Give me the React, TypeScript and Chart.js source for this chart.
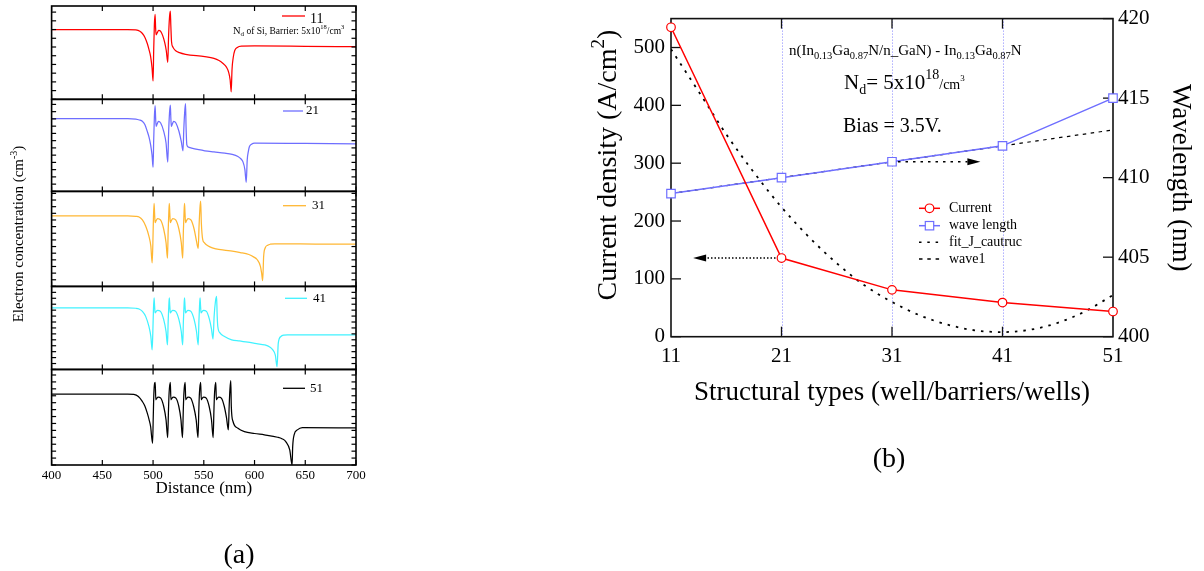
import React, { useEffect, useRef } from 'react';
import { Chart, registerables } from 'chart.js';

Chart.register(...registerables);

const SERIF = '"Liberation Serif", "Times New Roman", Times, serif';

// ---------------- Panel (a): electron concentration vs distance ----------------
const distanceTicks = [400, 450, 500, 550, 600, 650, 700];
const structureNames = ['11', '21', '31', '41', '51'];
// y range of each stacked sub-plot (arbitrary log units, one minor tick per unit)
const panelRanges = [10.7, 12.7, 14.3, 14.0, 13.8];

const conc11 = [
  [400, 8.0], [475, 8.0], [483, 7.95], [487, 7.8], [489.5, 7.55], [492, 7.1], [494.3, 6.4], [496, 5.7],
  [497.6, 4.9], [499, 3.6], [500, 2.1], [500.6, 5.5], [501.3, 8.6], [502, 9.75], [502.5, 8.2], [503, 7.4],
  [504, 7.6], [505.5, 7.9], [507.5, 7.8], [509.5, 7.3], [511.5, 6.5], [513, 5.6], [514.5, 4.25], [515.3, 7.3],
  [516.2, 9.4], [517, 10.1], [517.5, 8.5], [518.2, 6.6], [519.5, 6.0], [522, 5.6], [526, 5.35], [532, 5.16],
  [551, 4.9], [560, 4.7], [565, 4.45], [569, 4.1], [572.3, 3.7], [574.5, 3.1], [576, 2.2], [577, 0.87],
  [577.8, 3.4], [579, 4.8], [580.5, 5.6], [583, 5.95], [587, 6.1], [600, 6.12], [650, 6.08], [700, 6.03],
];

const conc21 = [
  [400, 10.04], [475, 10.04], [483, 9.98], [486.5, 9.85], [489.4, 9.67], [492, 9.2], [494.3, 8.28], [496, 7.5],
  [497.6, 6.43], [499, 5.0], [500, 3.33], [500.6, 7.0], [501.3, 10.3], [502, 11.85], [502.5, 10.2], [503, 8.97],
  [504, 9.3], [505.3, 9.67], [507.5, 9.44], [510.5, 8.28], [512.8, 6.67], [514.5, 4.03], [515.3, 8.0], [516.2, 10.8],
  [517, 11.9], [517.5, 10.2], [518, 8.97], [519, 9.3], [520.3, 9.67], [522.5, 9.44], [525.5, 8.3], [527.8, 6.9],
  [529.5, 5.6], [530.3, 8.6], [531.2, 11.0], [532, 12.1], [532.5, 9.0], [533.3, 6.43], [535, 6.1], [538, 5.97],
  [545, 5.75], [551, 5.6], [560, 5.45], [570.7, 5.28], [578, 5.1], [583.6, 4.81], [586.5, 4.5], [588.5, 4.11],
  [590.5, 3.0], [591.8, 1.25], [592.8, 4.35], [594, 5.6], [595, 6.19], [597, 6.5], [600, 6.67], [650, 6.62], [700, 6.57],
];

const conc31 = [
  [400, 10.6], [475, 10.6], [483, 10.55], [486.2, 10.45], [489.5, 10.0], [492.7, 9.09], [495.9, 7.58], [497.8, 6.06],
  [499.1, 3.54], [499.8, 6.5], [500.4, 10.5], [501, 12.48], [501.5, 11.0], [502, 9.6], [503, 9.9], [504.4, 10.2],
  [507.3, 10.0], [510.5, 8.6], [512.8, 6.58], [514.2, 4.24], [514.9, 8.5], [515.5, 11.0], [516, 12.48], [516.5, 11.0],
  [517, 9.6], [518, 9.9], [519.4, 10.2], [522.3, 10.0], [525.5, 8.6], [527.8, 6.58], [529.2, 4.24], [529.9, 8.5],
  [530.5, 11.0], [531, 12.48], [531.5, 11.0], [532, 9.6], [533, 9.9], [534.4, 10.2], [537.3, 10.0], [540.5, 8.6],
  [542.8, 6.8], [544.5, 5.71], [545.3, 9.0], [546.2, 11.8], [546.9, 12.83], [547.6, 9.5], [548.9, 7.08], [550.5, 6.6],
  [552.2, 6.32], [556, 5.95], [561.9, 5.66], [570, 5.45], [578.1, 5.3], [586, 5.1], [594.4, 4.8], [599, 4.45],
  [602.5, 4.05], [605.8, 3.03], [607, 2.0], [608, 0.86], [609, 4.55], [610.6, 5.82], [613, 6.2], [615.5, 6.35],
  [620, 6.42], [660, 6.38], [700, 6.35],
];

const conc41 = [
  [400, 10.37], [475, 10.37], [483, 10.32], [486.2, 10.2], [489.5, 9.8], [492.7, 8.95], [495.9, 7.25], [497.8, 5.56],
  [499.1, 3.3], [499.8, 6.5], [500.4, 10.2], [501, 12.07], [501.5, 10.7], [502, 9.53], [503, 9.75], [504.4, 9.97],
  [507.3, 9.8], [510.5, 8.4], [512.8, 6.4], [514.2, 4.15], [514.9, 8.2], [515.5, 10.7], [516, 12.07], [516.5, 10.7],
  [517, 9.53], [518, 9.75], [519.4, 9.97], [522.3, 9.8], [525.5, 8.4], [527.8, 6.4], [529.2, 4.15], [529.9, 8.2],
  [530.5, 10.7], [531, 12.07], [531.5, 10.7], [532, 9.53], [533, 9.75], [534.4, 9.97], [537.3, 9.8], [540.5, 8.4],
  [542.8, 6.4], [544.5, 4.15], [545.2, 8.2], [545.8, 10.7], [546.3, 12.07], [546.8, 10.7], [547.3, 9.53], [548.3, 9.75],
  [549.7, 9.97], [552.6, 9.8], [555.5, 8.5], [557.5, 6.9], [559.1, 5.12], [560.2, 9.0], [561.5, 11.5], [562.6, 12.34],
  [563.2, 9.0], [563.8, 7.25], [566.1, 6.13], [570, 5.6], [577.5, 5.0], [585, 4.8], [593.4, 4.6], [602, 4.35],
  [610, 4.15], [615, 3.8], [618, 3.3], [620.5, 2.4], [622.2, 0.47], [623.4, 4.44], [626, 5.56], [629, 5.8],
  [632.4, 5.85], [700, 5.83],
];

const conc51 = [
  [400, 10.25], [475, 10.25], [481, 10.2], [485.5, 9.9], [489.4, 9.18], [492, 8.5], [494.3, 7.49], [496, 6.6],
  [497.6, 5.55], [499.5, 3.14], [500.2, 7.0], [500.8, 10.4], [502.1, 11.93], [502.7, 9.42], [503.5, 9.6], [505, 9.81],
  [507.6, 9.67], [510.5, 8.45], [512.8, 6.52], [514.4, 3.97], [515.2, 8.0], [515.8, 10.4], [517, 11.93], [517.6, 9.42],
  [518.4, 9.6], [519.9, 9.81], [522.5, 9.67], [525.4, 8.45], [527.5, 6.52], [529.0, 3.97], [529.8, 8.0], [530.4, 10.4],
  [531.6, 11.93], [532.2, 9.42], [533, 9.6], [534.5, 9.81], [537.1, 9.67], [540, 8.45], [542.5, 6.52], [544.3, 3.97],
  [545.1, 8.0], [545.7, 10.4], [546.9, 11.93], [547.5, 9.42], [548.3, 9.6], [549.8, 9.81], [552.4, 9.67], [555.3, 8.45],
  [557.6, 6.52], [559.2, 3.97], [560, 8.0], [560.6, 10.4], [561.8, 11.93], [562.4, 9.42], [563.2, 9.6], [564.7, 9.81],
  [567.3, 9.67], [570.2, 8.45], [572.4, 6.8], [574.2, 5.07], [575, 8.5], [575.8, 11.0], [576.6, 12.17], [577.1, 8.5],
  [578.8, 6.28], [583.6, 5.31], [590, 4.83], [600, 4.55], [609.7, 4.35], [622.7, 4.01], [627, 3.8], [630.8, 3.38],
  [634.7, 2.17], [637, 0], [637.6, 2.65], [639, 4.35], [642.2, 5.07], [647.1, 5.41], [700, 5.35],
];

const concCurves = [conc11, conc21, conc31, conc41, conc51];

// ---------------- Panel (b): current density & wavelength ----------------
const structTypes = [11, 21, 31, 41, 51];
const currentDensity = [535, 136, 81, 59, 43.5];
const waveLength = [409.0, 410.0, 411.0, 412.0, 415.0];
const fitX = [11, 13.5, 16, 18.5, 21, 23.5, 26, 28.5, 31, 33.5, 36, 38.5, 41, 43.5, 46, 48.5, 51];
const fitJ = [497, 424, 350, 284, 224, 172, 127, 89, 60, 37, 21, 11, 8, 12, 24, 44, 72];
const wave1 = [409, 410, 411, 412, 413];
const currentTicks = [0, 100, 200, 300, 400, 500];
const waveTicks = [400, 405, 410, 415, 420];

// ---------------- styles / layout ----------------
const panelColors = ['#ff0000', '#6e6eff', '#ffb733', '#40f2ff', '#000000'];
const panelWeights = [93.3, 92, 95, 83, 95.5];
const legendLineX = [[282, 305], [283, 303], [283, 306], [285, 307], [283, 305]];
const legendTextX = [310, 306, 312, 313, 310];
const legendY = [16, 111, 205.7, 298.3, 388.3];
const legendTextDy = [3.5, 0, 0, 0, 0];

type Part = [string, number, number];

function drawRich(ctx: CanvasRenderingContext2D, x: number, y: number, parts: Part[], align = 'left') {
  let w = 0;
  for (const [t, s] of parts) {
    ctx.font = `${s}px ${SERIF}`;
    w += ctx.measureText(t).width;
  }
  let cx = align === 'center' ? x - w / 2 : x;
  ctx.textAlign = 'left';
  for (const [t, s, dy] of parts) {
    ctx.font = `${s}px ${SERIF}`;
    ctx.fillText(t, cx, y + dy);
    cx += ctx.measureText(t).width;
  }
}

function seg(ctx: CanvasRenderingContext2D, x0: number, y0: number, x1: number, y1: number) {
  ctx.beginPath();
  ctx.moveTo(x0, y0);
  ctx.lineTo(x1, y1);
  ctx.stroke();
}

function arrow(ctx: CanvasRenderingContext2D, x0: number, y: number, x1: number, dash: number[]) {
  const dir = Math.sign(x1 - x0);
  const headLen = 13;
  const hw = 3.5;
  ctx.setLineDash(dash);
  seg(ctx, x0, y, x1 - dir * headLen, y);
  ctx.setLineDash([]);
  ctx.beginPath();
  ctx.moveTo(x1, y);
  ctx.lineTo(x1 - dir * headLen, y - hw);
  ctx.lineTo(x1 - dir * headLen, y + hw);
  ctx.closePath();
  ctx.fill();
}

const leftDecor = {
  id: 'leftDecor',
  afterDatasetsDraw(chart: any) {
    const { ctx } = chart;
    const x = chart.scales.x;
    const xl = chart.chartArea.left;
    const xr = chart.chartArea.right;
    ctx.save();
    ctx.fillStyle = '#000';
    for (let i = 0; i < concCurves.length; i++) {
      const ys = chart.scales['p' + i];
      const top = ys.top;
      const bot = ys.bottom;
      ctx.strokeStyle = '#000';
      ctx.setLineDash([]);
      ctx.lineWidth = 1.2;
      for (const v of distanceTicks) {
        const px = x.getPixelForValue(v);
        seg(ctx, px, top, px, top + 5);
        seg(ctx, px, bot, px, bot - 5);
      }
      for (let v = 0; v <= panelRanges[i] + 1e-6; v += 1) {
        const py = ys.getPixelForValue(v);
        seg(ctx, xl, py, xl + 4.5, py);
        seg(ctx, xr, py, xr - 4.5, py);
      }
      ctx.lineWidth = 1.6;
      ctx.strokeRect(xl, top, xr - xl, bot - top);
      // legend entry
      ctx.strokeStyle = panelColors[i];
      ctx.lineWidth = 1.3;
      seg(ctx, legendLineX[i][0], legendY[i], legendLineX[i][1], legendY[i]);
      ctx.font = `${i === 0 ? 14 : 13}px ${SERIF}`;
      ctx.textBaseline = 'middle';
      ctx.textAlign = 'left';
      ctx.fillText(structureNames[i], legendTextX[i], legendY[i] + legendTextDy[i]);
    }
    ctx.textBaseline = 'alphabetic';
    drawRich(ctx, 233, 33.5, [
      ['N', 10.5, 0], ['d', 7, 2.5], [' of Si, Barrier: 5x10', 9.5, 0], ['18', 6.5, -4.5], ['/cm', 9.5, 0], ['3', 6.5, -4.5],
    ]);
    // y-axis title
    ctx.save();
    ctx.translate(19.5, 234);
    ctx.rotate(-Math.PI / 2);
    ctx.textBaseline = 'middle';
    drawRich(ctx, 0, 0, [['Electron concentration (cm', 15, 0], ['-3', 10, -5], [')', 15, 0]], 'center');
    ctx.restore();
    // panel tag
    ctx.font = `28px ${SERIF}`;
    ctx.textAlign = 'center';
    ctx.textBaseline = 'middle';
    ctx.fillText('(a)', 239, 556);
    ctx.restore();
  },
};

const OFFX = 560; // left edge of the right-hand canvas on the page

const rightDecor = {
  id: 'rightDecor',
  beforeDatasetsDraw(chart: any) {
    const { ctx, chartArea: a } = chart;
    const x = chart.scales.x;
    const y = chart.scales.y;
    const y2 = chart.scales.y2;
    const guides = structTypes.slice(1, -1);
    ctx.save();
    ctx.strokeStyle = '#8484ff';
    ctx.lineWidth = 1;
    ctx.setLineDash([1, 2]);
    for (const v of guides) {
      const px = Math.round(x.getPixelForValue(v)) + 0.5;
      seg(ctx, px, a.top, px, a.bottom);
    }
    ctx.setLineDash([]);
    ctx.strokeStyle = '#111';
    ctx.lineWidth = 1.3;
    for (const v of guides) {
      const px = x.getPixelForValue(v);
      seg(ctx, px, a.top, px, a.top + 10);
      seg(ctx, px, a.bottom, px, a.bottom - 10);
    }
    for (const v of currentTicks) {
      const py = y.getPixelForValue(v);
      seg(ctx, a.left, py, a.left + 10, py);
    }
    for (const v of waveTicks) {
      const py = y2.getPixelForValue(v);
      seg(ctx, a.right, py, a.right - 10, py);
    }
    ctx.lineWidth = 1.6;
    ctx.strokeRect(a.left, a.top, a.right - a.left, a.bottom - a.top);
    ctx.restore();
  },
  afterDatasetsDraw(chart: any) {
    const { ctx } = chart;
    const x = chart.scales.x;
    const y = chart.scales.y;
    const y2 = chart.scales.y2;
    ctx.save();
    ctx.fillStyle = '#000';
    ctx.strokeStyle = '#000';
    ctx.lineWidth = 1.5;
    // arrows
    arrow(ctx, x.getPixelForValue(structTypes[1]) - 6, y.getPixelForValue(currentDensity[1]), x.getPixelForValue(13), [1.5, 2]);
    arrow(ctx, x.getPixelForValue(structTypes[2]) + 6, y2.getPixelForValue(waveLength[2]), x.getPixelForValue(39), [2.5, 5]);
    // annotations
    ctx.textBaseline = 'alphabetic';
    drawRich(ctx, 789 - OFFX, 55, [
      ['n(In', 15, 0], ['0.13', 10.5, 3.5], ['Ga', 15, 0], ['0.87', 10.5, 3.5], ['N/n_GaN) - In', 15, 0],
      ['0.13', 10.5, 3.5], ['Ga', 15, 0], ['0.87', 10.5, 3.5], ['N', 15, 0],
    ]);
    drawRich(ctx, 844 - OFFX, 88.5, [
      ['N', 21, 0], ['d', 14, 5], ['= 5x10', 21, 0], ['18', 14, -10], ['/cm', 14, 0], ['3', 9, -8],
    ]);
    drawRich(ctx, 843 - OFFX, 131.5, [['Bias = 3.5V.', 20, 0]]);
    // left axis title with superscript
    ctx.save();
    ctx.translate(609 - OFFX, 165);
    ctx.rotate(-Math.PI / 2);
    ctx.textBaseline = 'middle';
    drawRich(ctx, 0, 0, [['Current density (A/cm', 28, 0], ['2', 19, -10], [')', 28, 0]], 'center');
    ctx.restore();
    // legend
    const lx0 = 919 - OFFX;
    const lx1 = 940 - OFFX;
    const lxt = 949 - OFFX;
    const rows = [208.3, 225.7, 242.3, 259];
    const names = ['Current', 'wave length', 'fit_J_cautruc', 'wave1'];
    ctx.font = `14px ${SERIF}`;
    ctx.textBaseline = 'middle';
    ctx.textAlign = 'left';
    names.forEach((n, i) => {
      const ry = rows[i];
      ctx.save();
      if (i === 0) {
        ctx.strokeStyle = '#ff0000';
        ctx.lineWidth = 1.5;
        seg(ctx, lx0, ry, lx1, ry);
        ctx.fillStyle = '#fff';
        ctx.lineWidth = 1.2;
        ctx.beginPath();
        ctx.arc((lx0 + lx1) / 2, ry, 4.3, 0, Math.PI * 2);
        ctx.fill();
        ctx.stroke();
      } else if (i === 1) {
        ctx.strokeStyle = '#6e6eff';
        ctx.lineWidth = 1.5;
        seg(ctx, lx0, ry, lx1, ry);
        ctx.fillStyle = '#fff';
        ctx.lineWidth = 1.2;
        ctx.fillRect((lx0 + lx1) / 2 - 4.2, ry - 4.2, 8.4, 8.4);
        ctx.strokeRect((lx0 + lx1) / 2 - 4.2, ry - 4.2, 8.4, 8.4);
      } else {
        ctx.strokeStyle = '#000';
        ctx.lineWidth = 1.6;
        ctx.setLineDash(i === 2 ? [2.5, 5.8] : [3.5, 4.8]);
        seg(ctx, lx0, ry, lx1 + 2, ry);
      }
      ctx.restore();
      ctx.fillStyle = '#000';
      ctx.fillText(n, lxt, ry);
    });
    ctx.font = `28px ${SERIF}`;
    ctx.textAlign = 'center';
    ctx.fillText('(b)', 889 - OFFX, 460);
    ctx.restore();
  },
};

function leftConfig(): any {
  const yScales: any = {};
  concCurves.forEach((_, i) => {
    yScales['p' + i] = {
      type: 'linear',
      position: 'left',
      stack: 'panels',
      stackWeight: panelWeights[i],
      weight: concCurves.length - i,
      min: 0,
      max: panelRanges[i],
      ticks: { display: false, stepSize: 1 },
      grid: { display: false, drawTicks: false },
      border: { display: false },
      title: { display: false },
    };
  });
  return {
    type: 'line',
    data: {
      datasets: concCurves.map((c, i) => ({
        label: structureNames[i],
        data: c.map(([px, py]) => ({ x: px, y: py })),
        yAxisID: 'p' + i,
        borderColor: panelColors[i],
        borderWidth: 1.25,
        pointRadius: 0,
        fill: false,
        cubicInterpolationMode: 'monotone',
      })),
    },
    options: {
      responsive: false,
      animation: false,
      devicePixelRatio: 1,
      events: [],
      layout: { padding: { left: 51.6, right: 14, top: 6, bottom: 72 } },
      plugins: { legend: { display: false }, tooltip: { enabled: false } },
      scales: {
        x: {
          type: 'linear',
          position: 'bottom',
          min: 400,
          max: 700,
          afterBuildTicks: (s: any) => { s.ticks = distanceTicks.map((v) => ({ value: v })); },
          ticks: { font: { family: SERIF, size: 13 }, color: '#000', padding: 3, maxRotation: 0, autoSkip: false },
          grid: { display: false, drawTicks: false },
          border: { display: false },
          title: { display: true, text: 'Distance (nm)', font: { family: SERIF, size: 17 }, color: '#000', padding: 0 },
          afterFit: (s: any) => { s.height = 34; },
        },
        ...yScales,
      },
    },
    plugins: [leftDecor],
  };
}

function rightConfig(): any {
  return {
    type: 'line',
    data: {
      datasets: [
        {
          label: 'Current',
          data: structTypes.map((v, i) => ({ x: v, y: currentDensity[i] })),
          yAxisID: 'y',
          borderColor: '#ff0000',
          borderWidth: 1.5,
          pointStyle: 'circle',
          pointRadius: 4.3,
          pointBackgroundColor: '#fff',
          pointBorderColor: '#ff0000',
          pointBorderWidth: 1.2,
          clip: 10,
          order: 0,
        },
        {
          label: 'wave length',
          data: structTypes.map((v, i) => ({ x: v, y: waveLength[i] })),
          yAxisID: 'y2',
          borderColor: '#6e6eff',
          borderWidth: 1.5,
          pointStyle: 'rect',
          pointRadius: 6,
          pointBackgroundColor: '#fff',
          pointBorderColor: '#6e6eff',
          pointBorderWidth: 1.2,
          clip: 10,
          order: 1,
        },
        {
          label: 'wave1',
          data: structTypes.map((v, i) => ({ x: v, y: wave1[i] })),
          yAxisID: 'y2',
          borderColor: '#000',
          borderWidth: 1.2,
          borderDash: [3.5, 4.5],
          pointRadius: 0,
          order: 2,
        },
        {
          label: 'fit_J_cautruc',
          data: fitX.map((v, i) => ({ x: v, y: fitJ[i] })),
          yAxisID: 'y',
          borderColor: '#000',
          borderWidth: 1.8,
          borderDash: [2.5, 6],
          pointRadius: 0,
          cubicInterpolationMode: 'monotone',
          order: 3,
        },
      ],
    },
    options: {
      responsive: false,
      animation: false,
      devicePixelRatio: 1,
      events: [],
      layout: { padding: { left: 33.4, right: 7.4, top: 15.5, bottom: 162.3 } },
      plugins: { legend: { display: false }, tooltip: { enabled: false } },
      scales: {
        x: {
          type: 'linear',
          position: 'bottom',
          min: 11,
          max: 51,
          afterBuildTicks: (s: any) => { s.ticks = structTypes.map((v) => ({ value: v })); },
          ticks: { font: { family: SERIF, size: 21 }, color: '#000', padding: 6.7, maxRotation: 0, autoSkip: false },
          grid: { display: false, drawTicks: false },
          border: { display: false },
          title: { display: true, text: 'Structural types (well/barriers/wells)', font: { family: SERIF, size: 27 }, color: '#000', padding: 0 },
          afterFit: (s: any) => { s.height = 72; },
        },
        y: {
          type: 'linear',
          position: 'left',
          min: 0,
          max: 550,
          afterBuildTicks: (s: any) => { s.ticks = currentTicks.map((v) => ({ value: v })); },
          ticks: { font: { family: SERIF, size: 21 }, color: '#000', padding: 6 },
          grid: { display: false, drawTicks: false },
          border: { display: false },
          title: { display: false },
          afterFit: (s: any) => { s.width = 77.6; },
        },
        y2: {
          type: 'linear',
          position: 'right',
          min: 400,
          max: 420,
          afterBuildTicks: (s: any) => { s.ticks = waveTicks.map((v) => ({ value: v })); },
          ticks: { font: { family: SERIF, size: 21 }, color: '#000', padding: 5 },
          grid: { display: false, drawTicks: false },
          border: { display: false },
          title: { display: true, text: 'Wavelength (nm)', font: { family: SERIF, size: 27 }, color: '#000', padding: 0 },
          afterFit: (s: any) => { s.width = 83.6; },
        },
      },
    },
    plugins: [rightDecor],
  };
}

export default function App() {
  const leftRef = useRef<HTMLCanvasElement>(null);
  const rightRef = useRef<HTMLCanvasElement>(null);
  useEffect(() => {
    const c1 = new Chart(leftRef.current as HTMLCanvasElement, leftConfig());
    const c2 = new Chart(rightRef.current as HTMLCanvasElement, rightConfig());
    return () => {
      c1.destroy();
      c2.destroy();
    };
  }, []);
  return (
    <div style={{ position: 'absolute', left: 0, top: 0, width: 1204, height: 571, background: '#fff', overflow: 'hidden' }}>
      <canvas ref={leftRef} width={370} height={571} style={{ position: 'absolute', left: 0, top: 0, width: 370, height: 571 }} />
      <canvas ref={rightRef} width={644} height={571} style={{ position: 'absolute', left: 560, top: 0, width: 644, height: 571 }} />
    </div>
  );
}
